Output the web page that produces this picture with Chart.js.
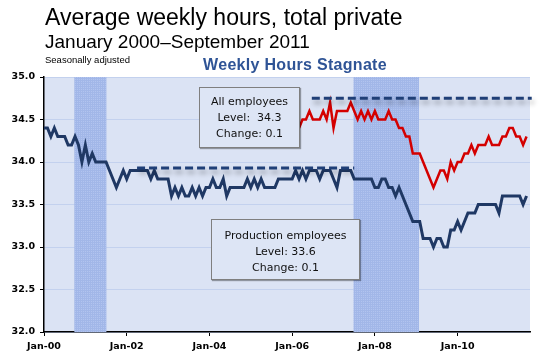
<!DOCTYPE html>
<html>
<head>
<meta charset="utf-8">
<script src="https://cdn.jsdelivr.net/npm/chart.js@4/dist/chart.umd.min.js"></script>
<style>
  html, body { margin: 0; padding: 0; background: #ffffff; }
  #wrap { position: relative; width: 539px; height: 363px; overflow: hidden; }
  #c { position: absolute; left: 0; top: 0; }
  .t { position: absolute; white-space: nowrap; color: #000; }
  #t1 { left: 45px; top: 5.5px; font: 23px/23px "Liberation Sans", Arial, sans-serif; }
  #t2 { left: 45px; top: 32px; font: 19px/19px "Liberation Sans", Arial, sans-serif; }
  #t3 { left: 45px; top: 55px; font: 9.5px/9.5px "Liberation Sans", Arial, sans-serif; }
  #t4 { left: 195px; width: 200px; text-align: center; top: 56.5px; font: bold 16px/16px "Liberation Sans", Arial, sans-serif; letter-spacing: 0.3px; color: #2f5496; }
  .box { position: absolute; box-sizing: border-box; border: 1px solid #7f7f7f; background: #dde5f5;
         box-shadow: 1px 1px 1px rgba(0,0,0,0.35); text-align: center;
         font: 11px/16px "DejaVu Sans", Verdana, sans-serif; color: #111; }
  #boxAll { left: 199px; top: 87px; width: 101px; height: 61px; padding-top: 6px; }
  #boxProd { left: 211px; top: 219px; width: 149px; height: 61px; padding-top: 8px; }
</style>
</head>
<body>
<div id="wrap">
  <canvas id="c" width="539" height="363"></canvas>
  <div class="t" id="t1">Average weekly hours, total private</div>
  <div class="t" id="t2">January 2000–September 2011</div>
  <div class="t" id="t3">Seasonally adjusted</div>
  <div class="t" id="t4">Weekly Hours Stagnate</div>
  <div class="box" id="boxAll">All employees<br>Level:&nbsp; 34.3<br>Change: 0.1</div>
  <div class="box" id="boxProd">Production employees<br>Level: 33.6<br>Change: 0.1</div>
</div>
<script>
// ---- categories: monthly, Jan 2000 .. Sep 2011 ----
const monthNames = ["Jan","Feb","Mar","Apr","May","Jun","Jul","Aug","Sep","Oct","Nov","Dec"];
const months = [];
for (let y = 2000; y <= 2011; y++) {
  for (let m = 0; m < 12; m++) {
    if (y === 2011 && m > 8) break;
    months.push(monthNames[m] + "-" + String(y).slice(2));
  }
}

// ---- x tick labels (every 24 months) ----
const tickLabels = ["Jan-00", "Jan-02", "Jan-04", "Jan-06", "Jan-08", "Jan-10"];

// ---- Production employees average weekly hours (Jan 2000 .. Sep 2011) ----
const production = [
  34.4, 34.4, 34.3, 34.4, 34.3, 34.3, 34.3, 34.2, 34.2, 34.3, 34.2, 34.0, // 2000
  34.2, 34.0, 34.1, 34.0, 34.0, 34.0, 34.0, 33.9, 33.8, 33.7, 33.8, 33.9, // 2001
  33.8, 33.9, 33.9, 33.9, 33.9, 33.9, 33.9, 33.8, 33.9, 33.8, 33.8, 33.8, // 2002
  33.8, 33.6, 33.7, 33.6, 33.7, 33.6, 33.6, 33.7, 33.6, 33.7, 33.6, 33.7, // 2003
  33.7, 33.8, 33.7, 33.7, 33.8, 33.6, 33.7, 33.7, 33.7, 33.7, 33.7, 33.8, // 2004
  33.7, 33.8, 33.7, 33.8, 33.7, 33.7, 33.7, 33.7, 33.8, 33.8, 33.8, 33.8, // 2005
  33.8, 33.9, 33.8, 33.9, 33.8, 33.9, 33.9, 33.9, 33.8, 33.9, 33.9, 33.9, // 2006
  33.8, 33.7, 33.9, 33.9, 33.9, 33.9, 33.8, 33.8, 33.8, 33.8, 33.8, 33.8, // 2007
  33.7, 33.7, 33.8, 33.8, 33.7, 33.7, 33.6, 33.7, 33.6, 33.5, 33.4, 33.3, // 2008
  33.3, 33.3, 33.1, 33.1, 33.1, 33.0, 33.1, 33.1, 33.0, 33.0, 33.2, 33.2, // 2009
  33.3, 33.2, 33.3, 33.4, 33.4, 33.4, 33.5, 33.5, 33.5, 33.5, 33.5, 33.5, // 2010
  33.4, 33.6, 33.6, 33.6, 33.6, 33.6, 33.6, 33.5, 33.6                    // 2011
];

// ---- All employees average weekly hours (Mar 2006 .. Sep 2011) ----
const allStart = "Mar-06";
const allEmployees = [
  34.4, 34.5, 34.5, 34.6, 34.5, 34.5, 34.5, 34.6, 34.5, 34.7,             // 2006 (Mar-Dec)
  34.4, 34.6, 34.6, 34.6, 34.6, 34.7, 34.6, 34.5, 34.6, 34.5, 34.6, 34.5, // 2007
  34.6, 34.5, 34.5, 34.5, 34.6, 34.5, 34.5, 34.4, 34.4, 34.3, 34.3, 34.1, // 2008
  34.1, 34.1, 34.0, 33.9, 33.8, 33.7, 33.8, 33.9, 33.9, 33.8, 34.0, 33.9, // 2009
  34.0, 34.0, 34.1, 34.1, 34.2, 34.1, 34.2, 34.2, 34.2, 34.3, 34.2, 34.2, // 2010
  34.2, 34.3, 34.3, 34.4, 34.4, 34.3, 34.3, 34.2, 34.3                    // 2011
];

// ---- reference (pre-recession) levels, dashed: value, from / to (month index) ----
const refLevels = [34.75, 33.93];
const refFrom   = [77.7, 27];
const refTo     = [141.5, 90];

// ---- shaded periods (month index on the axis) ----
const shadeStart = [8.8, 89.8];
const shadeEnd   = [18.1, 108.8];

// ---- y axis ----
const yMin = 32, yMax = 35, yStep = 0.5;
const tickEvery = 24;

const allOffset = months.indexOf(allStart);
const prodPts = production.map((v, i) => ({ x: i, y: v }));
const allPts = allEmployees.map((v, i) => ({ x: allOffset + i, y: v }));

const plotBg = {
  id: 'plotBg',
  beforeDraw(chart) {
    const { ctx, chartArea: a } = chart;
    ctx.save();
    ctx.fillStyle = '#dbe3f4';
    ctx.fillRect(a.left, a.top, a.right - a.left, a.bottom - a.top);
    ctx.restore();
  }
};

function makePattern(ctx) {
  const p = document.createElement('canvas');
  p.width = 2; p.height = 2;
  const pc = p.getContext('2d');
  pc.fillStyle = '#b2c4ef';
  pc.fillRect(0, 0, 2, 2);
  pc.fillStyle = '#a2b7e8';
  pc.fillRect(0, 0, 2, 1);
  pc.fillRect(0, 0, 1, 2);
  return ctx.createPattern(p, 'repeat');
}

const bands = {
  id: 'bands',
  beforeDatasetsDraw(chart) {
    const { ctx, chartArea: a, scales: { x } } = chart;
    ctx.save();
    ctx.fillStyle = makePattern(ctx);
    shadeStart.forEach((s, k) => {
      const x0 = x.getPixelForValue(s), x1 = x.getPixelForValue(shadeEnd[k]);
      ctx.fillRect(x0, a.top, x1 - x0, a.bottom - a.top);
    });
    ctx.restore();
  }
};

const shadows = {
  id: 'shadows',
  beforeDatasetDraw(chart, args) {
    const ds = chart.data.datasets[args.index];
    if (ds.isRef) {
      const ctx = chart.ctx;
      ctx.save();
      ctx.shadowColor = 'rgba(0,0,0,0.32)';
      ctx.shadowBlur = 5;
      ctx.shadowOffsetX = 2;
      ctx.shadowOffsetY = 4;
    }
  },
  afterDatasetDraw(chart, args) {
    const ds = chart.data.datasets[args.index];
    if (ds.isRef) chart.ctx.restore();
  }
};

const refSets = refLevels.map((v, k) => ({
  label: 'ref' + k,
  isRef: true,
  data: [{ x: refFrom[k], y: v }, { x: refTo[k], y: v }],
  borderColor: '#1f3f77',
  borderWidth: 3,
  borderDash: [8, 4],
  pointRadius: 0,
  clip: false,
  order: 0
}));

const tickFont = { family: '"DejaVu Sans", Verdana, sans-serif', size: 9.5, weight: 'bold' };

new Chart(document.getElementById('c'), {
  type: 'line',
  data: {
    datasets: [
      ...refSets,
      {
        label: 'All employees',
        data: allPts,
        borderColor: '#d40000',
        borderWidth: 2.5,
        pointRadius: 0,
        tension: 0,
        order: 1
      },
      {
        label: 'Production employees',
        data: prodPts,
        borderColor: '#1f3864',
        borderWidth: 3,
        pointRadius: 0,
        tension: 0,
        order: 2
      }
    ]
  },
  options: {
    responsive: false,
    animation: false,
    devicePixelRatio: 1,
    layout: { padding: { top: 77, right: 9, left: 0, bottom: 0 } },
    plugins: { legend: { display: false }, tooltip: { enabled: false }, title: { display: false } },
    scales: {
      x: {
        type: 'linear',
        min: 0,
        max: months.length,
        afterFit(s) { s.height = 31; },
        afterBuildTicks(s) { s.ticks = tickLabels.map((l, k) => ({ value: k * tickEvery })); },
        ticks: {
          callback: (v, i) => tickLabels[i],
          font: tickFont,
          color: '#000',
          padding: 5,
          maxRotation: 0,
          autoSkip: false
        },
        grid: { drawOnChartArea: false, tickLength: 4, tickColor: '#000', color: '#000' },
        border: { color: '#000', width: 1.5 }
      },
      y: {
        min: yMin,
        max: yMax,
        afterFit(s) { s.width = 44; },
        ticks: {
          stepSize: yStep,
          callback: v => Number(v).toFixed(1),
          font: tickFont,
          color: '#000',
          padding: 5
        },
        grid: { color: '#c3d1ee', lineWidth: 1, tickLength: 4, tickColor: '#000' },
        border: { color: '#000', width: 1.5 }
      }
    }
  },
  plugins: [plotBg, bands, shadows]
});
</script>
</body>
</html>
